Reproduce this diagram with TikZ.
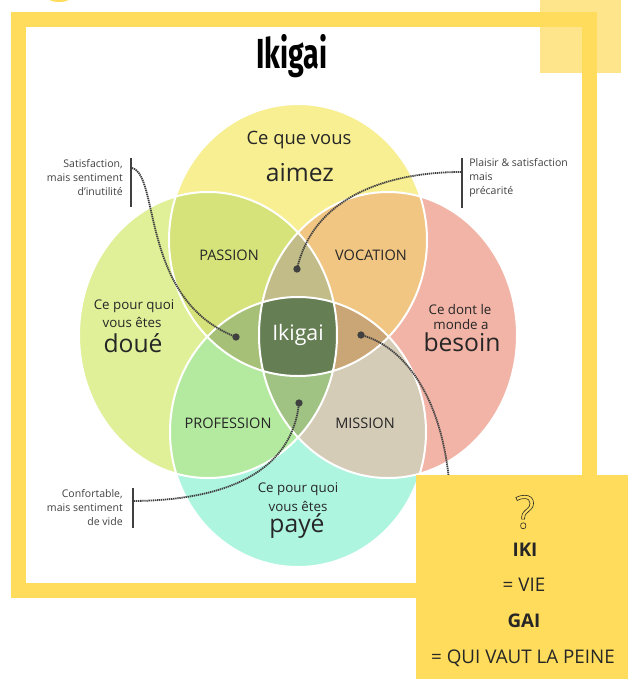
\documentclass[tikz,border=0pt]{standalone}
\usepackage{fontspec}
\setmainfont{Open Sans}
\newfontfamily\titlefont{Fira Sans}
\usetikzlibrary{positioning}

\definecolor{frameyellow}{RGB}{255,220,92}
\definecolor{paleyellow}{RGB}{254,229,140}
\definecolor{loveyellow}{RGB}{247,239,146}
\definecolor{goodgreen}{RGB}{224,240,152}
\definecolor{needpink}{RGB}{241,180,166}
\definecolor{paidmint}{RGB}{174,245,223}
\definecolor{passioncol}{RGB}{214,227,122}
\definecolor{vocationcol}{RGB}{241,198,130}
\definecolor{professioncol}{RGB}{180,234,160}
\definecolor{missioncol}{RGB}{213,204,184}
\definecolor{tlrcol}{RGB}{194,188,136}
\definecolor{tlbcol}{RGB}{166,192,120}
\definecolor{trbcol}{RGB}{202,165,117}
\definecolor{lrbcol}{RGB}{160,195,132}
\definecolor{ikigaicol}{RGB}{102,126,84}
\definecolor{textgray}{RGB}{38,38,38}
\definecolor{notegray}{RGB}{64,64,64}

% the four circles
\newcommand{\loveshape}{(298,240) ellipse [x radius=129, y radius=136]}
\newcommand{\goodshape}{(208,335) ellipse [x radius=129, y radius=143]}
\newcommand{\needshape}{(388,335) ellipse [x radius=129, y radius=143]}
\newcommand{\paidshape}{(298,432) ellipse [x radius=128, y radius=135]}

\begin{document}
\begin{tikzpicture}[x=0.75pt, y=-0.75pt,
    lbl/.style={text=textgray, inner sep=0pt},
    small/.style={lbl, font=\fontsize{10}{12}\selectfont},
    big/.style={lbl, font=\fontsize{18.5}{22}\selectfont},
    zone/.style={lbl, font=\fontsize{10.9}{13}\selectfont},
    note/.style={text=notegray, inner sep=0pt, font=\fontsize{7.9}{10.5}\selectfont},
    bar/.style={draw=notegray, line width=1.9pt},
    link/.style={draw=notegray, line width=1.35pt, dash pattern=on 1pt off 0.55pt},
    dot/.style={circle, fill=notegray, inner sep=0pt, minimum size=5.5pt},
    boxtext/.style={text=black!85, inner sep=0pt, font=\fontsize{14.1}{16}\selectfont}]
    \useasboundingbox (0,0) rectangle (628,679);
    % frame and corner square
    \fill[paleyellow] (540,0) rectangle (621,73);
    \fill[frameyellow] (59,-8) ellipse [x radius=16, y radius=10];
    \draw[frameyellow, line width=11.25pt] (18.5,19) rectangle (589.5,590.5);
    \node[inner sep=0pt] (title) at (292,56) {\scalebox{0.68}[1]{\titlefont\bfseries\fontsize{31.5}{32}\selectfont Ikigai}};

    % circles and their overlaps
    \fill[loveyellow] \loveshape;
    \fill[goodgreen] \goodshape;
    \fill[needpink] \needshape;
    \fill[paidmint] \paidshape;
    \begin{scope}
        \clip \loveshape;
        \fill[passioncol] \goodshape;
        \fill[vocationcol] \needshape;
    \end{scope}
    \begin{scope}
        \clip \paidshape;
        \fill[professioncol] \goodshape;
        \fill[missioncol] \needshape;
    \end{scope}
    \begin{scope}
        \clip \loveshape; \clip \goodshape;
        \fill[tlrcol] \needshape;
        \fill[tlbcol] \paidshape;
    \end{scope}
    \begin{scope}
        \clip \needshape; \clip \paidshape;
        \fill[trbcol] \loveshape;
        \fill[lrbcol] \goodshape;
    \end{scope}
    \begin{scope}
        \clip \loveshape; \clip \goodshape; \clip \needshape;
        \fill[ikigaicol] \paidshape;
    \end{scope}
    \draw[white, line width=1.5pt] \loveshape \goodshape \needshape \paidshape;

    % circle texts
    \node[lbl, font=\fontsize{13.8}{16}\selectfont] (lovea) at (299,140) {Ce que vous};
    \node[big] (loveb) at (300,173) {aimez};
    \node[small] (gooda) at (134,306) {Ce pour quoi};
    \node[small] (goodb) at (132,322) {vous êtes};
    \node[big] (goodc) at (133,343) {doué};
    \node[small] (needa) at (460,309) {Ce dont le};
    \node[small] (needb) at (461,324) {monde a};
    \node[big] (needc) at (462,342) {besoin};
    \node[small] (paida) at (298,489) {Ce pour quoi};
    \node[small] (paidb) at (298,506) {vous êtes};
    \node[big] (paidc) at (297,526) {payé};
    \node[zone] (passion) at (229,255) {PASSION};
    \node[zone] (vocation) at (371,255) {VOCATION};
    \node[zone] (profession) at (228,423) {PROFESSION};
    \node[zone] (mission) at (365,423) {MISSION};
    \node[inner sep=0pt, text=white, font=\fontsize{16}{18}\selectfont] (ikigai) at (298,335) {Ikigai};

    % remarks
    \node[note, anchor=east, align=right] (inutilnote) at (123,178) {Satisfaction,\\mais sentiment\\d'inutilité};
    \node[note, anchor=west, align=left] (precairenote) at (469,178) {Plaisir \& satisfaction\\mais\\précarité};
    \node[note, anchor=east, align=right] (videnote) at (123,508) {Confortable,\\mais sentiment\\de vide};
    \draw[bar] (131,158) -- (131,207);
    \draw[bar] (462,158) -- (462,208);
    \draw[bar] (133,488) -- (133,528);
    \coordinate (inutilbar) at (132,168);
    \coordinate (precairebar) at (461,172);
    \coordinate (videbar) at (134,501);
    \coordinate (hidden) at (449,480);
    \node[dot] (inutile) at (236,337) {};
    \node[dot] (precaire) at (297,269) {};
    \node[dot] (vide) at (299,403) {};
    \node[dot] (besoindot) at (361,335) {};
    \draw[link] (inutilbar) .. controls (160,175) and (140,300) .. (inutile.center);
    \draw[link] (precairebar) .. controls (400,172) and (315,190) .. (precaire.center);
    \draw[link] (videbar) .. controls (230,500) and (292,470) .. (vide.center);
    \draw[link] (besoindot.center) .. controls (400,345) and (440,390) .. (hidden);

    % meaning box
    \fill[frameyellow] (416,475) rectangle (628,679);
    \node[boxtext, font=\bfseries\fontsize{14.1}{16}\selectfont] (iki) at (525,550) {IKI};
    \node[boxtext] (vie) at (524,585) {= VIE};
    \node[boxtext, font=\bfseries\fontsize{14.1}{16}\selectfont] (gai) at (524,621) {GAI};
    \node[boxtext] (peine) at (523,658) {= QUI VAUT LA PEINE};
    \node[boxtext, font=\fontsize{34}{34}\selectfont] (qmark) at (525,512) {\special{pdf:literal direct 1 Tr 0.45 w}?\special{pdf:literal direct 0 Tr}};
\end{tikzpicture}
\end{document}
